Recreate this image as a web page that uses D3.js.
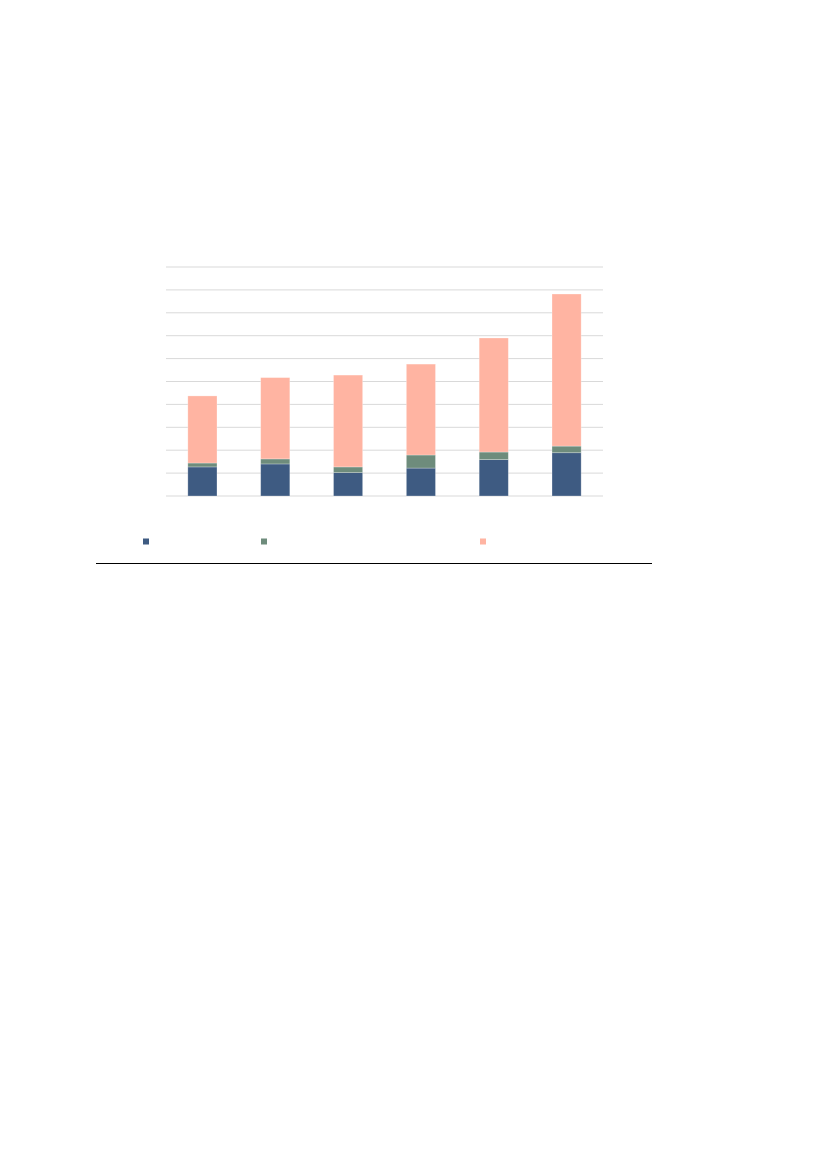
<!DOCTYPE html>
<html>
<head>
<meta charset="utf-8">
<script src="https://cdn.jsdelivr.net/npm/d3@7"></script>
<style>
  body { margin: 0; background: #fff; }
</style>
</head>
<body>
<script>
// values (grid units), one array per series
const categories = ['c1', 'c2', 'c3', 'c4', 'c5', 'c6'];
const seriesKeys = ['blue', 'green', 'pink'];
const blueVals  = [1.27, 1.40, 1.02, 1.22, 1.59, 1.89];
const greenVals = [0.17, 0.22, 0.25, 0.57, 0.33, 0.29];
const pinkVals  = [2.93, 3.55, 4.01, 3.97, 4.98, 6.64];
const yTicks = [0, 1, 2, 3, 4, 5, 6, 7, 8, 9, 10];

const colors = { blue: '#3e5b82', green: '#6e8c7c', pink: '#ffb4a2' };

const svg = d3.select('body')
  .append('svg')
    .attr('width', 827)
    .attr('height', 1169);

const plot = { left: 166, right: 603, top: 267, bottom: 496 };

const x = d3.scaleBand()
  .domain(categories)
  .range([plot.left, plot.right])
  .paddingInner(0.6)
  .paddingOuter(0.3);

const y = d3.scaleLinear()
  .domain([0, 10])
  .range([plot.bottom, plot.top]);

// gridlines
svg.append('g')
  .selectAll('line')
  .data(yTicks)
  .enter().append('line')
    .attr('x1', plot.left)
    .attr('x2', plot.right)
    .attr('y1', d => y(d))
    .attr('y2', d => y(d))
    .attr('stroke', '#d9d9d9')
    .attr('stroke-width', 1);

const rows = categories.map((c, i) => ({
  cat: c, blue: blueVals[i], green: greenVals[i], pink: pinkVals[i]
}));

const stacked = d3.stack().keys(seriesKeys)(rows);

svg.append('g')
  .selectAll('g')
  .data(stacked)
  .enter().append('g')
    .attr('fill', d => colors[d.key])
  .selectAll('rect')
  .data(d => d)
  .enter().append('rect')
    .attr('x', d => x(d.data.cat))
    .attr('width', x.bandwidth())
    .attr('y', d => y(d[1]))
    .attr('height', d => y(d[0]) - y(d[1]))
    .attr('stroke', '#ffffff')
    .attr('stroke-opacity', 0.35)
    .attr('stroke-width', 0.75);

// legend swatches (no labels in the picture)
const legendX = [143, 261, 480];
svg.append('g')
  .selectAll('rect')
  .data(seriesKeys)
  .enter().append('rect')
    .attr('x', (d, i) => legendX[i])
    .attr('y', 538.5)
    .attr('width', 6)
    .attr('height', 6)
    .attr('fill', d => colors[d]);

// rule under the chart
svg.append('line')
  .attr('x1', 96)
  .attr('x2', 652)
  .attr('y1', 563.5)
  .attr('y2', 563.5)
  .attr('stroke', '#000')
  .attr('stroke-width', 1);
</script>
</body>
</html>
